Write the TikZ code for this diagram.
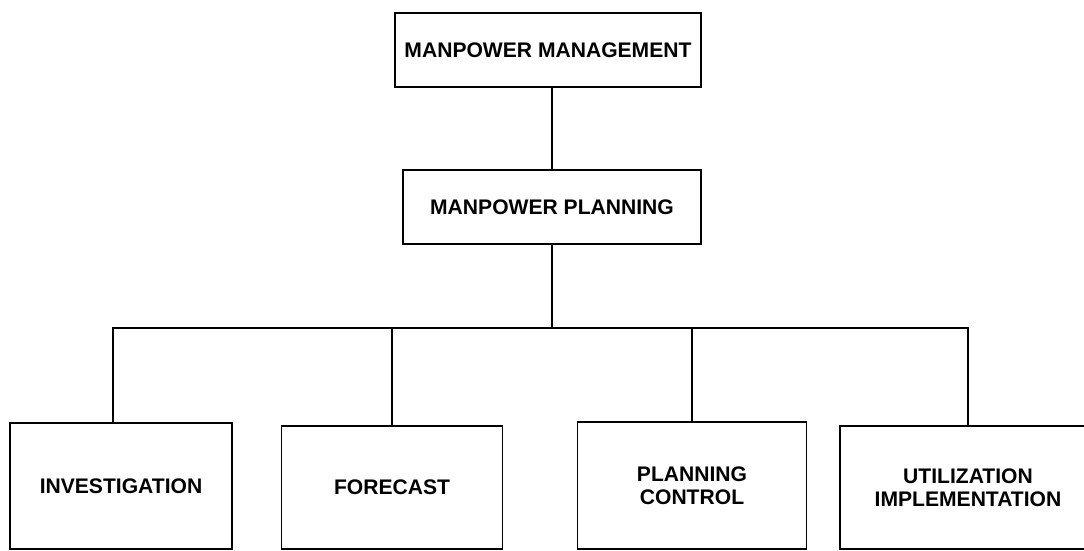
\documentclass[tikz,border=0pt]{standalone}
\usepackage{fontspec}
\setmainfont{Liberation Sans}

\begin{document}
\begin{tikzpicture}[x=0.25mm,y=-0.25mm,line width=1.2pt]
   \useasboundingbox (0,0) rectangle (1084,551);
   \begin{scope}[every node/.style={rectangle,draw=black,inner sep=0pt,align=center,
       font=\fontsize{15}{16}\selectfont\bfseries}]
    \node[minimum width=76.5mm,minimum height=18.5mm] (mgmt) at (548,50) {MANPOWER MANAGEMENT};
    \node[minimum width=74.5mm,minimum height=18.5mm] (plan) at (552,207) {MANPOWER PLANNING};
    \node[minimum width=55.5mm,minimum height=31.5mm] (inv) at (121,486) {INVESTIGATION};
    \node[minimum width=55.25mm,minimum height=30.75mm] (fc) at (392,487.5) {FORECAST};
    \node[minimum width=57.25mm,minimum height=31.75mm] (pc) at (692,485.5) {PLANNING\\CONTROL};
    \node[minimum width=64mm,minimum height=30.75mm] (util) at (968,487.5) {UTILIZATION\\IMPLEMENTATION};
   \end{scope}
   \coordinate (bus) at (552,328);
   \begin{scope}[every path/.style={draw=black}]
    \draw  (plan.north |- mgmt.south) -- (plan.north);
    \draw  (plan.south) -- (bus);
    \draw  ([xshift=-2mm]inv.north) |- (bus) -| (util.north);
    \draw  (fc.north) -- (fc.north |- bus);
    \draw  (pc.north) -- (pc.north |- bus);
   \end{scope}
\end{tikzpicture}
\end{document}
